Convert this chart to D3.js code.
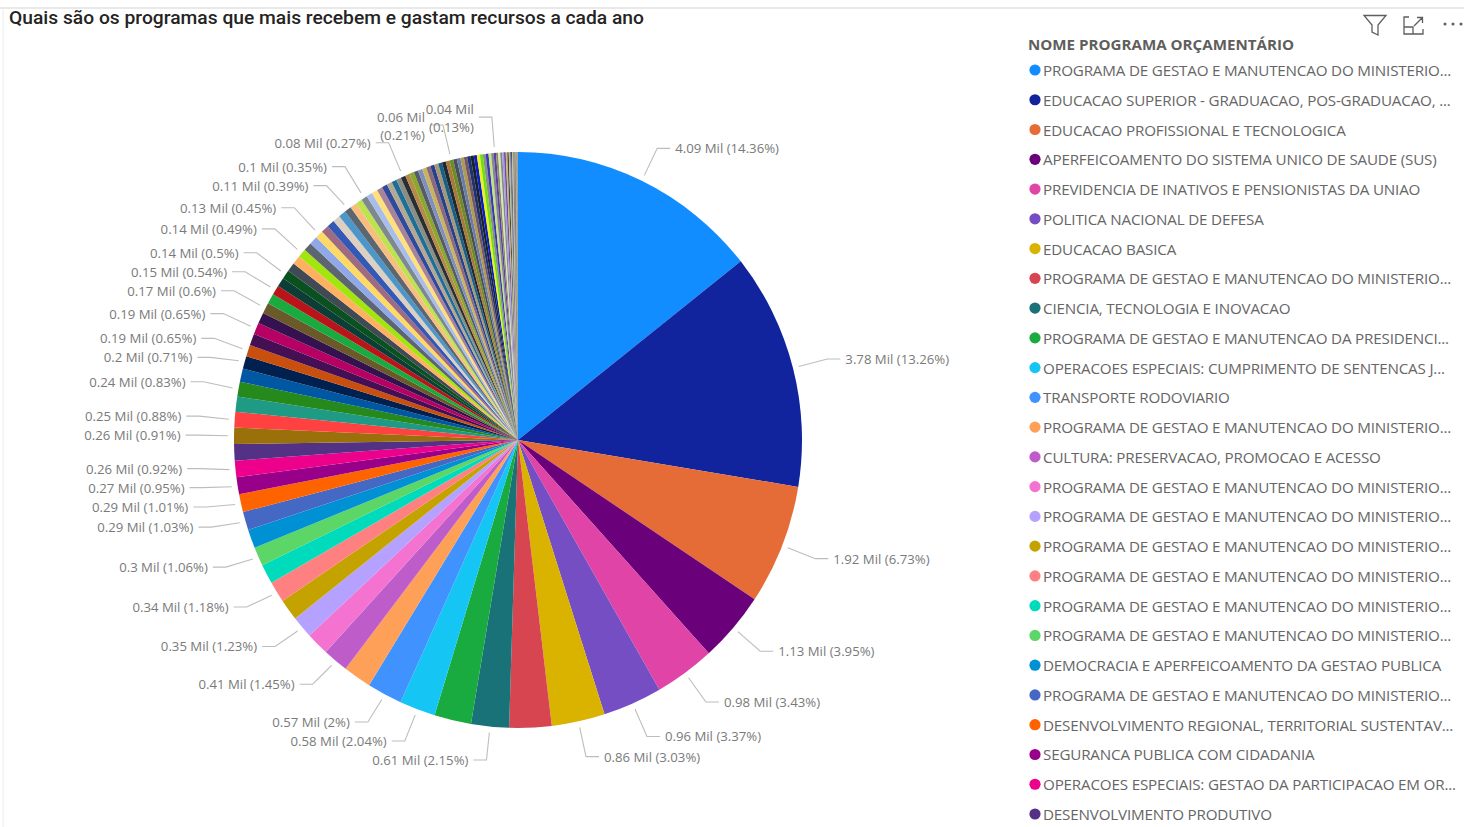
<!DOCTYPE html>
<html><head><meta charset="utf-8">
<style>html,body{margin:0;padding:0;background:#fff;overflow:hidden}svg{display:block}</style>
<script src="https://cdn.jsdelivr.net/npm/d3@7"></script></head><body>
<svg id="c" width="1464" height="827"></svg>
<script>
const titulo = "Quais são os programas que mais recebem e gastam recursos a cada ano";
const tituloLegenda = "NOME PROGRAMA ORÇAMENTÁRIO";
const PG = "PROGRAMA DE GESTAO E MANUTENCAO DO MINISTERIO...";
const programas = [PG,"EDUCACAO SUPERIOR - GRADUACAO, POS-GRADUACAO, ...","EDUCACAO PROFISSIONAL E TECNOLOGICA","APERFEICOAMENTO DO SISTEMA UNICO DE SAUDE (SUS)","PREVIDENCIA DE INATIVOS E PENSIONISTAS DA UNIAO","POLITICA NACIONAL DE DEFESA","EDUCACAO BASICA",PG,"CIENCIA, TECNOLOGIA E INOVACAO","PROGRAMA DE GESTAO E MANUTENCAO DA PRESIDENCI...","OPERACOES ESPECIAIS: CUMPRIMENTO DE SENTENCAS J...","TRANSPORTE RODOVIARIO",PG,"CULTURA: PRESERVACAO, PROMOCAO E ACESSO",PG,PG,PG,PG,PG,PG,"DEMOCRACIA E APERFEICOAMENTO DA GESTAO PUBLICA",PG,"DESENVOLVIMENTO REGIONAL, TERRITORIAL SUSTENTAV...","SEGURANCA PUBLICA COM CIDADANIA","OPERACOES ESPECIAIS: GESTAO DA PARTICIPACAO EM OR...","DESENVOLVIMENTO PRODUTIVO"];
const percentuais = [14.36,13.26,6.73,3.95,3.43,3.37,3.03,2.4,2.15,2.1,2.04,2,1.6,1.45,1.3,1.23,1.2,1.18,1.1,1.06,1.05,1.03,1.01,.95,.92,.92,.91,.88,.85,.83,.75,.71,.65,.65,.65,.62,.6,.57,.54,.52,.5,.5,.49,.49,.48,.47,.45,.44,.43,.42,.41,.39,.38,.37,.35,.34,.33,.32,.31,.3,.29,.28,.27,.26,.26,.25,.25,.24,.24,.23,.23,.22,.22,.22,.21,.21,.2,.2,.19,.19,.18,.18,.17,.17,.16,.16,.15,.14,.13,.12,.12,.11,.1,.1,.09,.08,.07,.06,.05,.05,.04,.04,.03,.03,.02,.02,.02,.02,.02,.01,.01,.01,.01,.01];
const cores = ["#118DFF","#12239E","#E66C37","#6B007B","#E044A7","#744EC2","#D9B300","#D64550","#197278","#1AAB40","#15C6F4","#4092FF","#FFA058","#BE5DC9","#F472D0","#B5A1FF","#C4A200","#FF8080","#00DBBC","#5BD667","#0091D5","#4668C5","#FF6300","#99008A","#EC008C","#533285","#99700A","#FF4141","#1F9A85","#25891C","#0057A2","#002050","#C94F0F","#450F54","#B60064","#34124F","#6A5A29","#1AAB40","#BA141A","#0C3D37","#0B511F","#3F4A55","#FFB061","#A3E60F","#5D6670","#8FA8E8","#FFD966","#9E6B80","#3358B5","#DDD0C0","#4D96C9","#5A6670","#F9BD80","#BFE34F","#7E8890","#A9BDEA","#FFE07A","#A88298","#2F4A9C","#B5A890","#1F6E99","#8A8F85","#2A2E33","#B58A4A","#8BA82A","#555C66","#7E8FC0","#C9B45E","#8C6A7E","#28408A","#A39878","#1A5F85","#1F2933","#A8793A","#6E8C24","#474F5A","#6B7AA8","#AD9B52","#72576A","#1E3170","#1A2229","#0A1FC0","#F0F020","#6CE010","#8A8F85","#3A3AB0","#C8E080","#808890","#5B3FA0","#8C8A66","#D8E8B0","#808890","#A99BD6","#6A4CA8","#C9B86A","#44405A","#B4C86A","#7A6EB0","#3A3A55","#C2C27A","#9A96C0","#5A5050","#9AA060","#303030","#7A7060","#C0C090","#50486A","#A0A0A0","#706850","#B0B070","#404040","#808060","#6A6A50","#8A8A60"];
const rotuloIdx = [1,2,3,4,5,6,7,9,11,12,14,16,18,20,22,23,24,25,27,28,30,32,33,35,37,39,41,44,47,52,55,63,75,89];
const rotuloMil = ["4.09","3.78","1.92","1.13","0.98","0.96","0.86","0.61","0.58","0.57","0.41","0.35","0.34","0.3","0.29","0.29","0.27","0.26","0.26","0.25","0.24","0.2","0.19","0.19","0.17","0.15","0.14","0.14","0.13","0.11","0.1","0.08","0.06","0.04"];
const rotuloPct = ["14.36","13.26","6.73","3.95","3.43","3.37","3.03","2.15","2.04","2","1.45","1.23","1.18","1.06","1.03","1.01","0.95","0.92","0.91","0.88","0.83","0.71","0.65","0.65","0.6","0.54","0.5","0.49","0.45","0.39","0.35","0.27","0.21","0.13"];

const svg = d3.select("#c");
const W = 1464, H = 827, cx = 518, cy = 440, rx = 284, ry = 288, rElbow = 324, rStart = 294, gapY = 19;
const FONT = "'Open Sans','Noto Sans',sans-serif";

// moldura
svg.append("line").attr("x1",0).attr("x2",W).attr("y1",8).attr("y2",8).attr("stroke","#e9e9e9").attr("stroke-width",2);
svg.append("line").attr("x1",3).attr("x2",3).attr("y1",9).attr("y2",H).attr("stroke","#ececec").attr("stroke-width",1);

svg.append("text").attr("x",9).attr("y",24).attr("font-family","Roboto,sans-serif").attr("font-weight",500).attr("font-size",17.5).attr("fill","#252423")
  .attr("textLength",635).attr("lengthAdjust","spacingAndGlyphs").text(titulo);

// pizza
const pie = d3.pie().sort(null).value(d=>d)(percentuais);
const arc = d3.arc().innerRadius(0).outerRadius(ry);
svg.append("g").attr("transform",`translate(${cx},${cy}) scale(${rx/ry},1)`)
  .selectAll("path").data(pie).join("path")
  .attr("d",arc).attr("fill",(d,i)=>cores[i%cores.length]);

// rótulos
const ponto = (a,r)=>[cx + r*(rx/ry)*Math.sin(a), cy - r*Math.cos(a)];
const rotulos = rotuloIdx.map((n,k)=>{
  const s = pie[n-1], a = (s.startAngle+s.endAngle)/2;
  const e = ponto(a,rElbow), esq = a>Math.PI, duas = a>2*Math.PI*0.95;
  const sobe = !esq || duas ? 0 : (Math.cos(a)<0 ? 4 : 1);
  return {a, ini:ponto(a,rStart), x:e[0], y:e[1]-sobe, mil:rotuloMil[k], pct:rotuloPct[k], esq, duas};
});
// afasta rótulos vizinhos do lado esquerdo
const esquerda = rotulos.filter(r=>r.esq && !r.duas).sort((p,q)=>p.y-q.y);
esquerda.forEach((r,i)=>{ if(i && r.y-esquerda[i-1].y<gapY) r.y = esquerda[i-1].y+gapY; });

const g = svg.append("g").attr("font-family",FONT).attr("font-size",13.2).attr("fill","#7a7a7a");
const linha = d3.line();
rotulos.forEach(r=>{
  const dir = r.esq?-1:1, tx = r.x + dir*18;
  g.append("path").attr("d",linha([r.ini,[r.x,r.y],[r.x+dir*13,r.y]])).attr("fill","none").attr("stroke","#bdbdbd").attr("stroke-width",1.1);
  const txt = g.append("text").attr("text-anchor",r.esq?"end":"start").attr("x",tx);
  if (r.duas) {
    txt.append("tspan").attr("x",tx).attr("y",r.y-3).text(`${r.mil} Mil`);
    txt.append("tspan").attr("x",tx).attr("y",r.y+15).text(`(${r.pct}%)`);
  } else {
    txt.attr("y",r.y+5).text(`${r.mil} Mil (${r.pct}%)`);
  }
});

// legenda
svg.append("text").attr("x",1028).attr("y",50).attr("font-family",FONT).attr("font-weight",700).attr("font-size",14.5).attr("fill","#605E5C")
  .attr("textLength",266).attr("lengthAdjust","spacingAndGlyphs").text(tituloLegenda);
const yLeg = d3.scaleLinear().domain([0,programas.length-1]).range([70,814]);
const leg = svg.append("g").selectAll("g").data(programas).join("g").attr("transform",(d,i)=>`translate(0,${yLeg(i)})`);
leg.append("circle").attr("cx",1035).attr("cy",0).attr("r",5.6).attr("fill",(d,i)=>cores[i]);
leg.append("text").attr("x",1043).attr("y",6).attr("font-family",FONT).attr("font-size",15.2).attr("fill","#666").attr("letter-spacing","-0.18").text(d=>d);

// ícones
const ic = svg.append("g").attr("fill","none").attr("stroke","#605E5C").attr("stroke-width",1.3);
ic.append("path").attr("d","M1364,15.5H1386L1378,25V35L1372,32V25Z");
ic.append("path").attr("d","M1409,17H1404V34H1423V29M1404,27H1413V34M1414,26L1422,18M1417,17.5H1422.5V23");
[1445,1453,1461].forEach(x=>svg.append("circle").attr("cx",x).attr("cy",24).attr("r",1.5).attr("fill","#605E5C"));
</script></body></html>
